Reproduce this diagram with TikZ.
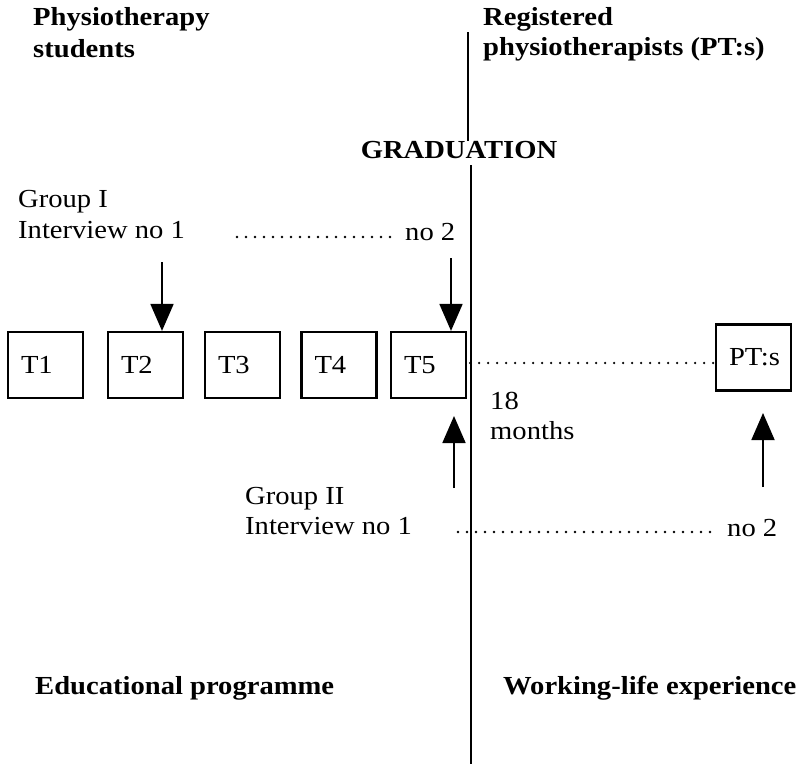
\documentclass[tikz,border=0pt]{standalone}
\usepackage{fontspec}
\setmainfont{Liberation Serif}[FakeStretch=1.1]
\usetikzlibrary{arrows.meta}
\begin{document}
\begin{tikzpicture}[x=1pt,y=-1pt,
  lbl/.style={inner sep=0pt,anchor=base west,font=\fontsize{26}{31}\selectfont},
  head/.style={inner sep=0pt,anchor=base west,font=\fontsize{26}{31}\selectfont\bfseries},
  term/.style={draw,line width=2.2pt,minimum height=66pt,inner xsep=13pt,inner ysep=0pt,
    text width=49pt,align=left,font=\fontsize{26}{31}\selectfont},
  arr/.style={line width=1.8pt,-{Triangle[length=27pt,width=23pt]}},
  dots/.style={line width=2.6pt,line cap=round,dash pattern=on 0pt off 9pt},
  divider/.style={line width=2.6pt}]
\useasboundingbox (0,0) rectangle (799,764);

% column headings
\node[head] (phys1) at (33,25) {Physiotherapy};
\node[head] (phys2) at (33,57) {students};
\node[head] (reg1) at (483,25) {Registered};
\node[head] (reg2) at (483,55) {physiotherapists (PT:s)};
\node[head,anchor=base] (grad) at (459,158) {GRADUATION};

% graduation divider
\coordinate (vtop) at (468,32);
\coordinate (vmid) at (471,165);
\coordinate (vbot) at (471,764);
\draw[divider,line width=2pt] (vtop) -- (vtop |- grad.north);
\draw[divider] (vmid) -- (vbot);

% terms of the programme
\node[term] (T1) at (45.5,365) {T1};
\node[term] (T2) at (145.5,365) {T2};
\node[term] (T3) at (242.5,365) {T3};
\node[term] (T4) at (339,365) {T4};
\node[term] (T5) at (428.5,365) {T5};
\node[term] (PT) at (753.5,357.5) {PT:s};

% group I
\node[lbl] (g1a) at (18,207) {Group I};
\node[lbl] (g1b) at (18,238) {Interview no 1};
\node[lbl] (g1c) at (405,240) {no 2};
\coordinate (d1s) at (237,237);
\coordinate (d1e) at (393,237);
\draw[dots] (d1s) -- (d1e);
\coordinate (a2) at (162,262);
\coordinate (a5) at (451,258);
\draw[arr] (a2) -- (a2 |- T2.north);
\draw[arr] (a5) -- (a5 |- T5.north);

% 18 months to registration
\coordinate (dm) at (0,363);
\draw[dots] (T5.east |- dm) ++(3,0) -- (PT.west |- dm);
\node[lbl] (m1) at (490,409) {18};
\node[lbl] (m2) at (490,439) {months};

% group II
\node[lbl] (g2a) at (245,504) {Group II};
\node[lbl] (g2b) at (245,534) {Interview no 1};
\node[lbl] (g2c) at (727,536) {no 2};
\coordinate (d2s) at (458,532);
\coordinate (d2e) at (717,532);
\draw[dots] (d2s) -- (d2e);
\coordinate (b5) at (454,488);
\coordinate (b5t) at (454,416);
\coordinate (bp) at (763,487);
\coordinate (bpt) at (763,413);
\draw[arr] (b5) -- (b5t);
\draw[arr] (bp) -- (bpt);

% bottom labels
\node[head] (edu) at (35,694) {Educational programme};
\node[head] (work) at (503,694) {Working-life experience};
\end{tikzpicture}
\end{document}
